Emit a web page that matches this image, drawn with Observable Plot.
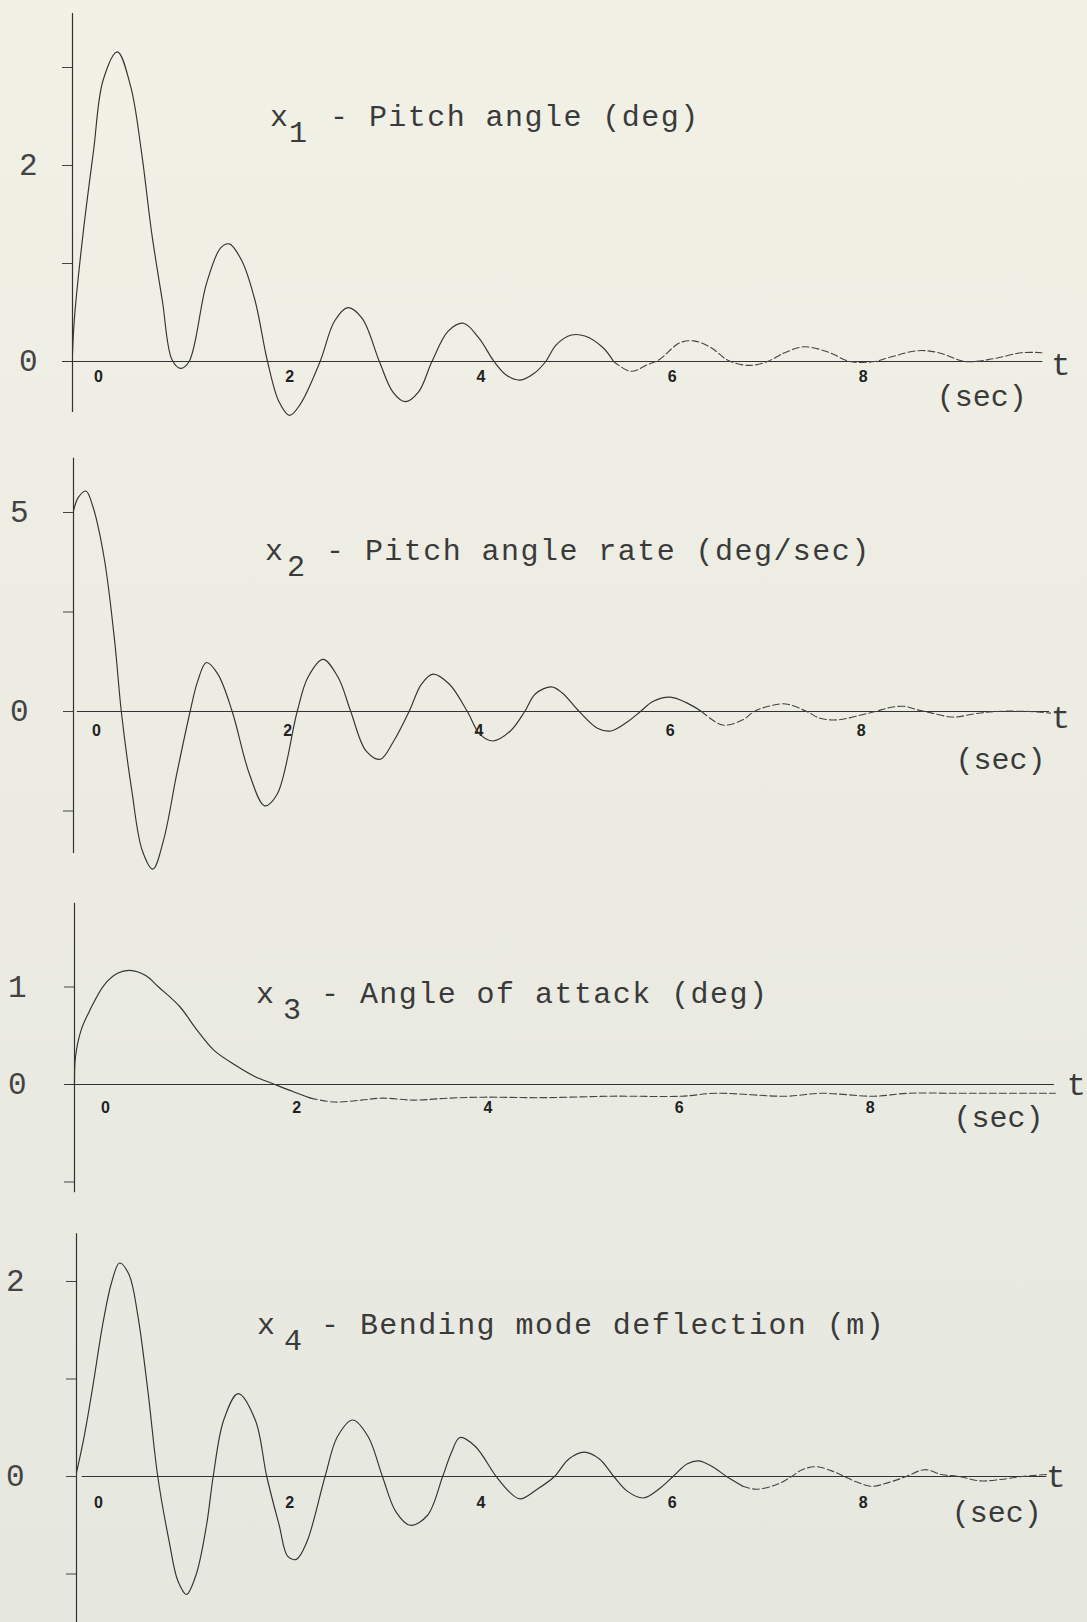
<!DOCTYPE html>
<html>
<head>
<meta charset="utf-8">
<script src="https://cdn.jsdelivr.net/npm/d3@7"></script>
<script src="https://cdn.jsdelivr.net/npm/@observablehq/plot@0.6"></script>
<style>
html, body { margin: 0; padding: 0; }
body {
  width: 1087px; height: 1622px; overflow: hidden;
  background: linear-gradient(to bottom, #f1f1e6 0%, #ececE3 45%, #e6e7df 100%);
}
#chart { position: relative; width: 1087px; height: 1622px; }
.panel { position: absolute; left: 0; width: 1087px; }
.panel svg { display: block; }
</style>
</head>
<body>
<div id="chart"></div>
<script>
// ---------------- data ----------------
// x1 - pitch angle (deg)
const t1 = [0,0.02,0.11,0.22,0.32,0.47,0.61,0.72,0.83,0.94,1.04,1.13,1.22,1.40,1.55,1.64,1.77,1.91,2.04,2.16,2.27,2.38,2.59,2.74,2.88,3.03,3.21,3.35,3.48,3.62,3.76,3.93,4.09,4.25,4.41,4.54,4.68,4.83,4.95,5.06,5.22,5.36,5.55,5.66,5.84,6.02,6.14,6.35,6.50,6.68,6.86,7.08,7.27,7.45,7.66,7.92,8.13,8.39,8.54,8.84,9.06,9.34,9.64,9.93,10.14];
const x1 = [0.08,0.44,1.30,2.15,2.87,3.16,2.80,2.15,1.30,0.62,0.02,-0.07,0.00,0.79,1.16,1.20,1.03,0.62,0.00,-0.41,-0.55,-0.44,0.00,0.41,0.55,0.44,0.00,-0.31,-0.41,-0.31,0.00,0.31,0.39,0.24,0.00,-0.14,-0.19,-0.12,0.00,0.17,0.27,0.26,0.14,0.00,-0.10,-0.03,0.02,0.19,0.21,0.14,0.01,-0.04,0.00,0.09,0.15,0.09,0.00,0.00,0.04,0.11,0.09,0.00,0.03,0.09,0.09];
// x2 - pitch angle rate (deg/sec)
const t2 = [0,0.05,0.13,0.20,0.32,0.43,0.50,0.61,0.72,0.83,0.94,1.08,1.22,1.30,1.39,1.51,1.66,1.84,2.00,2.13,2.34,2.45,2.61,2.77,2.90,3.06,3.21,3.35,3.51,3.64,3.76,3.93,4.12,4.25,4.39,4.57,4.72,4.83,5.00,5.11,5.29,5.48,5.62,5.80,5.93,6.06,6.24,6.42,6.57,6.79,7.00,7.12,7.27,7.45,7.67,7.81,7.99,8.25,8.39,8.54,8.69,8.83,8.98,9.20,9.42,9.64,10.00,10.22];
const x2 = [5.04,5.38,5.54,5.17,3.87,1.78,0.00,-1.99,-3.50,-3.96,-3.25,-1.57,0.00,0.77,1.23,0.94,0.00,-1.57,-2.37,-2.08,0.00,0.85,1.31,0.85,0.00,-0.99,-1.20,-0.74,0.00,0.69,0.94,0.69,0.00,-0.57,-0.74,-0.49,0.00,0.44,0.62,0.47,0.00,-0.42,-0.49,-0.25,0.00,0.25,0.36,0.21,0.00,-0.34,-0.21,0.00,0.13,0.19,0.00,-0.17,-0.21,-0.08,0.00,0.10,0.13,0.04,-0.04,-0.14,-0.06,0.00,0.00,-0.04];
// x3 - angle of attack (deg)
const t3 = [0,0.01,0.07,0.16,0.31,0.45,0.58,0.74,0.88,1.10,1.28,1.46,1.68,1.89,2.07,2.29,2.47,2.72,3.00,3.22,3.55,3.91,4.27,4.89,5.62,6.35,6.71,7.45,7.81,8.36,8.72,9.27,10.26];
const x3 = [0.00,0.28,0.56,0.76,1.02,1.14,1.17,1.12,1.00,0.80,0.56,0.35,0.20,0.08,0.01,-0.075,-0.14,-0.18,-0.16,-0.14,-0.16,-0.14,-0.13,-0.135,-0.12,-0.12,-0.09,-0.12,-0.09,-0.12,-0.09,-0.09,-0.09];
// x4 - bending mode deflection (m)
const t4 = [0,0.08,0.17,0.28,0.37,0.45,0.55,0.64,0.75,0.85,0.97,1.06,1.15,1.25,1.36,1.43,1.54,1.69,1.87,1.99,2.12,2.21,2.30,2.41,2.60,2.73,2.89,3.05,3.20,3.34,3.49,3.67,3.83,3.92,4.01,4.17,4.39,4.53,4.64,4.82,5.00,5.15,5.31,5.47,5.62,5.76,5.93,6.09,6.24,6.39,6.51,6.67,6.80,6.97,7.11,7.33,7.48,7.59,7.74,7.92,8.03,8.17,8.32,8.50,8.68,8.87,9.05,9.23,9.45,9.67,9.89,10.15];
const x4 = [0.04,0.41,0.92,1.59,2.00,2.19,2.07,1.66,0.85,0.00,-0.67,-1.07,-1.21,-1.01,-0.50,0.00,0.58,0.85,0.58,0.00,-0.50,-0.82,-0.85,-0.67,0.00,0.41,0.58,0.41,0.00,-0.36,-0.50,-0.40,0.00,0.24,0.40,0.31,0.00,-0.16,-0.23,-0.13,0.00,0.18,0.25,0.18,0.00,-0.15,-0.22,-0.13,0.00,0.13,0.16,0.09,0.00,-0.10,-0.13,-0.08,0.00,0.07,0.10,0.05,0.00,-0.06,-0.10,-0.06,0.00,0.07,0.02,0.00,-0.045,-0.03,0.00,0.02];

// tick values and labels
const xTicks = [0, 2, 4, 6, 8];
const yTicks1 = [0, 1, 2, 3],      yLabels1 = [0, 2];
const yTicks2 = [-2.5, 0, 2.5, 5], yLabels2 = [0, 5];
const yTicks3 = [-1, 0, 1],        yLabels3 = [0, 1];
const yTicks4 = [-1, 0, 1, 2],     yLabels4 = [0, 2];

// titles (variable, subscript, description)
const titleVar = ["x", "x", "x", "x"];
const titleSub = ["1", "2", "3", "4"];
const titleText = ["- Pitch angle (deg)", "- Pitch angle rate (deg/sec)", "- Angle of attack (deg)", "- Bending mode deflection (m)"];
const axisName = "t";
const unitName = "(sec)";

// axis extents (data units)
const yAxisExt = [[-0.52, 3.55], [-3.57, 6.36], [-1.11, 1.86], [-1.6, 2.49]];
const xAxisExt = [[-0.1, 10.15], [0.04, 10.21], [-0.09, 10.25], [0.06, 10.15]];
const dashFrom = [5.6, 6.5, 2.3, 6.9];

// ---------------- layout (pixels) ----------------
const W = 1087, PX_PER_SEC = 95.6;
const layout = [
  {top: 0,    height: 440, axisX: 72, zeroY: 361, unit: 98,   pad: 25, tDx: 18, tDy: 3, secDx: -61, secDy: 35, labDx: 26, labDy: 15, title: [270, 289, 330, 126]},
  {top: 440,  height: 440, axisX: 73, zeroY: 271, unit: 39.8, pad: 35, tDx: 11, tDy: 6, secDx: -49, secDy: 48, labDx: 23, labDy: 19, title: [265, 287, 326, 120]},
  {top: 880,  height: 330, axisX: 74, zeroY: 204, unit: 97.5, pad: 38, tDx: 22, tDy: 0, secDx: -56, secDy: 33, labDx: 31, labDy: 23, title: [256, 283, 321, 123]},
  {top: 1210, height: 412, axisX: 76, zeroY: 266, unit: 97.5, pad: 42, tDx: 9,  tDy: 0, secDx: -50, secDy: 36, labDx: 22, labDy: 26, title: [257, 284, 321, 124]}
];

const series = [[t1, x1], [t2, x2], [t3, x3], [t4, x4]];
const yTicksAll = [yTicks1, yTicks2, yTicks3, yTicks4];
const yLabelsAll = [yLabels1, yLabels2, yLabels3, yLabels4];

const INK = "#3a3a3a";
const MONO = "'Liberation Mono', 'DejaVu Sans Mono', monospace";

const chart = document.getElementById("chart");

series.forEach(([ts, vs], i) => {
  const L = layout[i];
  const data = ts.map((t, k) => ({t, v: vs[k]}));
  const idx = data.findIndex(d => d.t >= dashFrom[i]);
  const solid = data.slice(0, idx + 1);
  const dashed = data.slice(idx);
  const yMax = L.zeroY / L.unit;
  const yMin = -(L.height - L.zeroY) / L.unit;
  const xMax = (W - L.axisX) / PX_PER_SEC;
  const ext = yAxisExt[i], xext = xAxisExt[i];
  const labels = yLabelsAll[i];

  const svg = Plot.plot({
    width: W,
    height: L.height,
    marginLeft: L.axisX,
    marginRight: 0,
    marginTop: 0,
    marginBottom: 0,
    style: {background: "transparent", overflow: "visible", fontFamily: MONO, fontSize: "31px", color: "#444"},
    x: {domain: [0, xMax], axis: null},
    y: {
      domain: [yMin, yMax],
      axis: "left",
      ticks: yTicksAll[i],
      tickSize: 10,
      tickPadding: L.pad,
      tickFormat: d => labels.includes(d) ? String(d) : "",
      label: null
    },
    marks: [
      // vertical axis line
      Plot.ruleX([0], {y1: () => ext[0], y2: () => ext[1], stroke: "#333", strokeWidth: 1.2}),
      // time axis line
      Plot.ruleY([0], {x1: () => xext[0], x2: () => xext[1], stroke: "#333", strokeWidth: 1.1}),
      // time tick labels
      Plot.text(xTicks, {x: d => d, y: () => 0, text: d => String(d), dx: L.labDx, dy: L.labDy,
        fontFamily: "'Liberation Sans', Arial, sans-serif", fontWeight: "bold", fontSize: 16, fill: "#222"}),
      // response curve
      Plot.line(solid, {x: "t", y: "v", curve: "catmull-rom", stroke: "#333", strokeWidth: 1.15}),
      Plot.line(dashed, {x: "t", y: "v", curve: "catmull-rom", stroke: "#444", strokeWidth: 1.1, strokeDasharray: "7,3"}),
      // axis name and unit
      Plot.text([axisName], {x: () => xext[1], y: () => 0, text: d => d, dx: L.tDx, dy: L.tDy,
        fontFamily: MONO, fontSize: 32, fill: INK}),
      Plot.text([unitName], {x: () => xext[1], y: () => 0, text: d => d, dx: L.secDx, dy: L.secDy,
        fontFamily: MONO, fontSize: 30, fill: INK, style: {letterSpacing: "2px"}})
    ]
  });

  // title with subscript
  const [xx, sx, rx, by] = L.title;
  const tt = d3.select(svg).append("text")
    .attr("y", by)
    .attr("fill", INK)
    .attr("text-anchor", "start")
    .style("font-family", MONO)
    .style("font-size", "30px")
    .style("letter-spacing", "1.45px")
    .style("white-space", "pre");
  tt.append("tspan").attr("x", xx).text(titleVar[i]);
  tt.append("tspan").attr("x", sx).attr("dy", 16).text(titleSub[i]);
  tt.append("tspan").attr("x", rx).attr("dy", -16).text(titleText[i]);

  const div = document.createElement("div");
  div.className = "panel";
  div.style.top = L.top + "px";
  div.style.height = L.height + "px";
  div.appendChild(svg);
  chart.appendChild(div);
});
</script>
</body>
</html>
